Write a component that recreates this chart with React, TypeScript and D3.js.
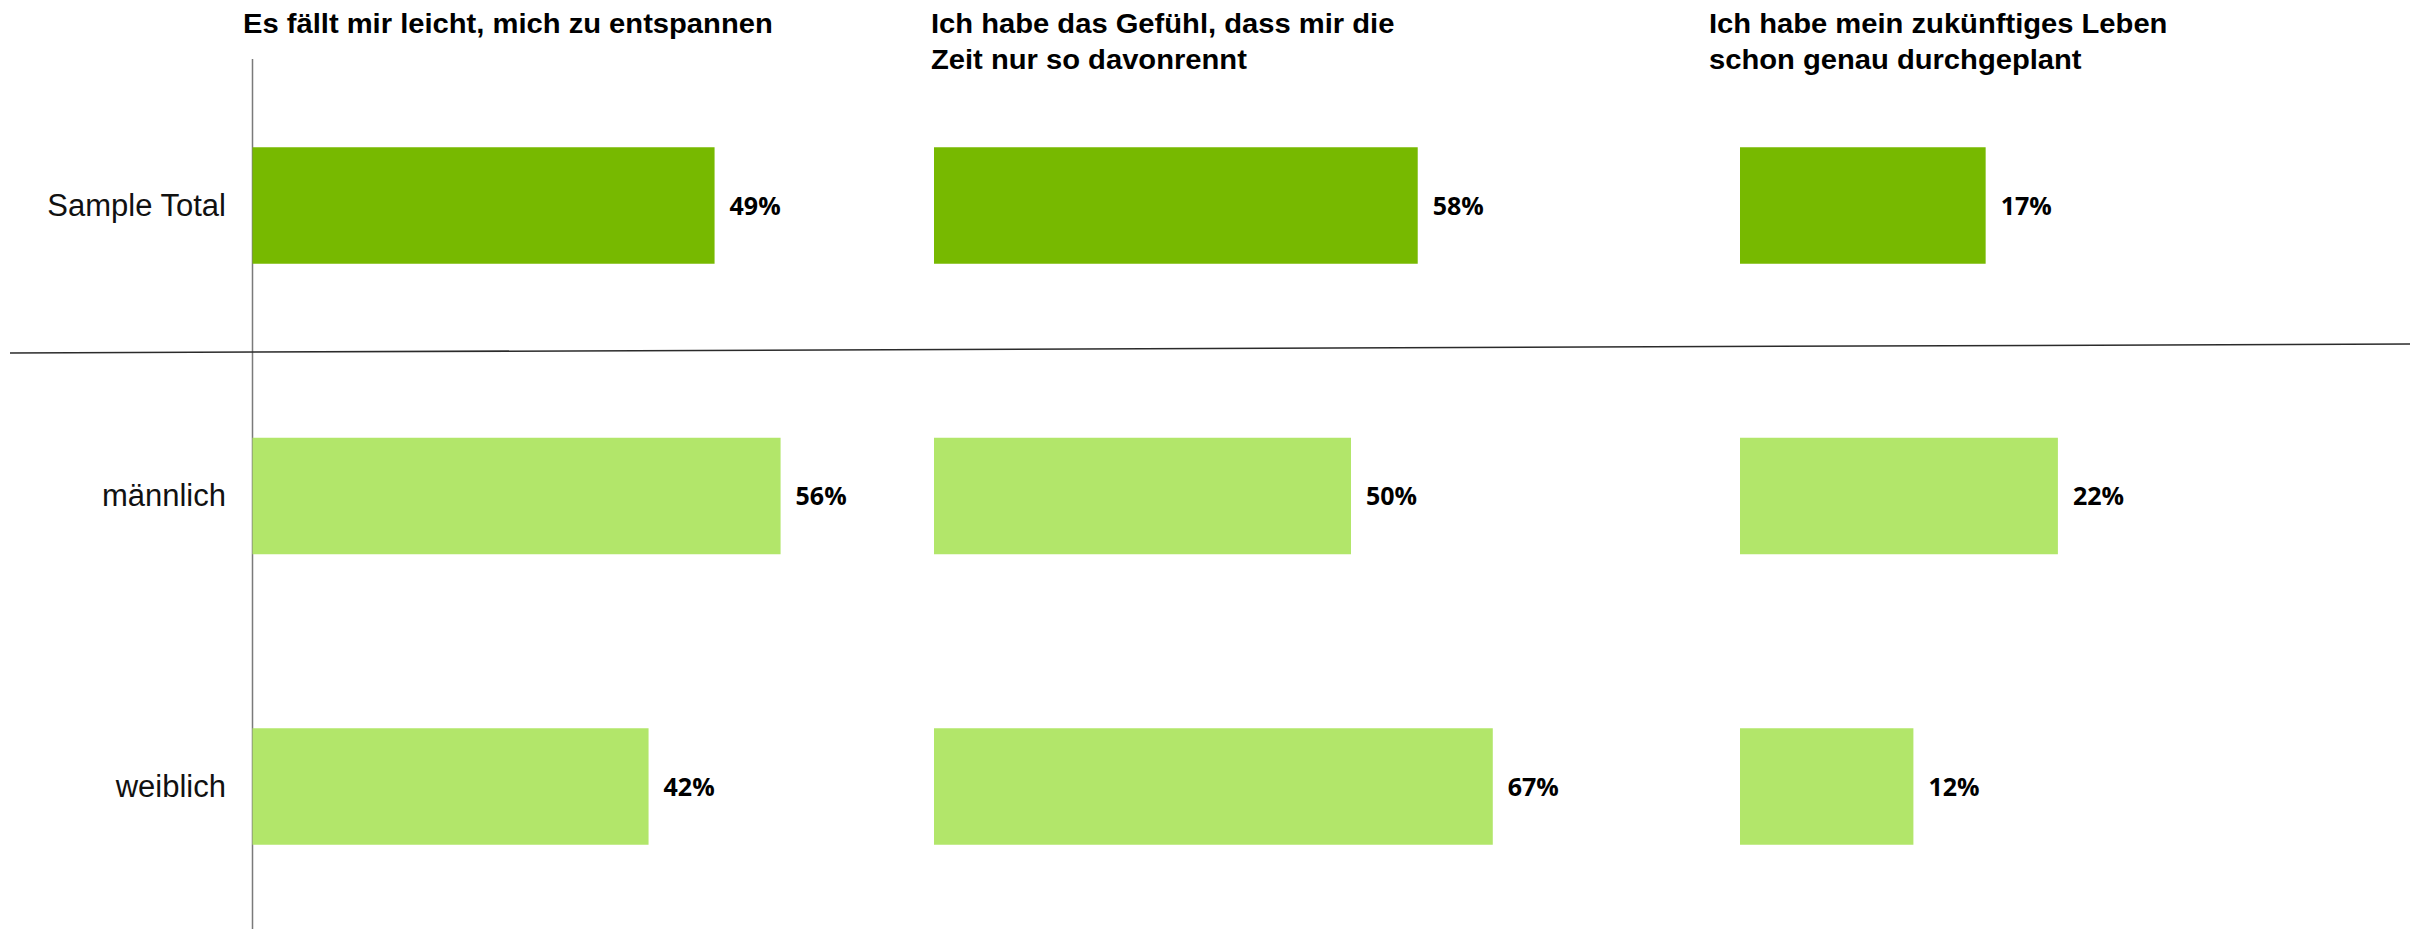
import { useEffect, useRef } from 'react';
import * as d3 from 'd3';

const categories = ['Sample Total', 'männlich', 'weiblich'];
const questionTitles = [
  ['Es fällt mir leicht, mich zu entspannen'],
  ['Ich habe das Gefühl, dass mir die', 'Zeit nur so davonrennt'],
  ['Ich habe mein zukünftiges Leben', 'schon genau durchgeplant'],
];
const relaxValues = [49, 56, 42];
const timeRunsValues = [58, 50, 67];
const lifePlannedValues = [17, 22, 12];
const seriesValues = [relaxValues, timeRunsValues, lifePlannedValues];

const WIDTH = 2425;
const HEIGHT = 929;

// each panel has its own x scale (own start and pixels per 100%)
const panelLayout = [
  { x0: 252.5, w100: 943, titleX: 243 },
  { x0: 934, w100: 834, titleX: 931 },
  { x0: 1740, w100: 1445, titleX: 1709 },
];

export default function App() {
  const svgRef = useRef<SVGSVGElement | null>(null);

  useEffect(() => {
    const svg = d3.select(svgRef.current);
    svg.selectAll('*').remove();

    const y = d3.scalePoint<string>().domain(categories).range([205.5, 786.5]);
    const barH = y.step() * 0.401;

    // Vertical axis line
    svg.append('line')
      .attr('x1', 252.5).attr('x2', 252.5)
      .attr('y1', 59).attr('y2', HEIGHT)
      .attr('stroke', '#7a7a7a')
      .attr('stroke-width', 1.5);

    // Separator between total and subgroups (slightly tilted, as in the original)
    svg.append('line')
      .attr('x1', 10).attr('y1', 353)
      .attr('x2', 2410).attr('y2', 344)
      .attr('stroke', '#2b2b2b')
      .attr('stroke-width', 1.5);

    // Category labels
    svg.append('g')
      .selectAll('text')
      .data(categories)
      .join('text')
      .attr('x', 226)
      .attr('y', d => (y(d) as number) + 10)
      .attr('text-anchor', 'end')
      .attr('font-family', '"Liberation Sans", Arial, sans-serif')
      .attr('font-size', 31)
      .attr('fill', '#111')
      .text(d => d);

    panelLayout.forEach((p, i) => {
      const x = d3.scaleLinear().domain([0, 100]).range([p.x0, p.x0 + p.w100]);
      const values = seriesValues[i];
      const g = svg.append('g');

      // Title
      const title = g.append('text')
        .attr('transform', `translate(${p.titleX},33) scale(1.08,1)`)
        .attr('font-family', '"Liberation Sans", Arial, sans-serif')
        .attr('font-weight', 'bold')
        .attr('font-size', 27)
        .attr('fill', '#000');
      title.selectAll('tspan')
        .data(questionTitles[i])
        .join('tspan')
        .attr('x', 0)
        .attr('y', (_, j) => j * 36)
        .text(d => d);

      // Bars
      g.selectAll('rect')
        .data(values)
        .join('rect')
        .attr('x', x(0))
        .attr('y', (_, j) => (y(categories[j]) as number) - barH / 2)
        .attr('width', d => x(d) - x(0))
        .attr('height', barH)
        .attr('fill', (_, j) => (j === 0 ? '#77b900' : '#b2e66a'));

      // Value labels
      g.selectAll('text.val')
        .data(values)
        .join('text')
        .attr('class', 'val')
        .attr('x', d => x(d) + 15)
        .attr('y', (_, j) => (y(categories[j]) as number) + 9)
        .attr('font-family', '"Open Sans", sans-serif')
        .attr('font-weight', 700)
        .attr('font-size', 25)
        .attr('fill', '#000')
        .text(d => `${d}%`);
    });
  }, []);

  return (
    <svg
      ref={svgRef}
      width={WIDTH}
      height={HEIGHT}
      style={{ position: 'absolute', left: 0, top: 0, display: 'block', background: '#fff' }}
    />
  );
}
